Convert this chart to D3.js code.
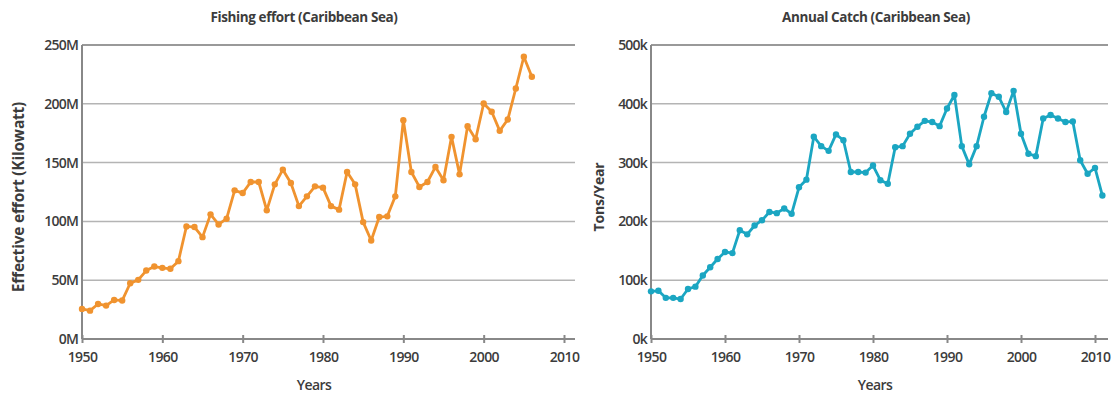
<!DOCTYPE html>
<html>
<head>
<meta charset="utf-8">
<script src="https://cdn.jsdelivr.net/npm/d3@7"></script>
<style>
  body { margin: 0; background: #fff; }
  svg text { font-family: "Open Sans", "Liberation Sans", sans-serif; fill: #3c3c3c; }
  .grid line { stroke: #b4b4b4; stroke-width: 1.5; }
  .axis path, .axis line { stroke: #888; stroke-width: 2; }
</style>
</head>
<body>
<svg id="chart" width="1117" height="412"></svg>
<script>
// Years shown on the x axis
var xTicks = [1950, 1960, 1970, 1980, 1990, 2000, 2010];

// Fishing effort, million kilowatt, one value per year from 1950
var effortStart = 1950;
var effortValues = [25.6, 24.1, 29.8, 28.4, 33.2, 32.7, 47.4, 50.3, 58.2, 61.6,
                    60.5, 59.7, 66.2, 95.7, 95.2, 86.6, 106, 97.4, 102.3, 126.4,
                    124.1, 133.5, 133.5, 109.4, 131.5, 144, 132.7, 113, 121.3, 129.8,
                    128.7, 113, 110, 142, 131.5, 99.4, 83.8, 103.7, 104.3, 121.3,
                    186, 142, 129.3, 133.5, 146.3, 135, 171.9, 140, 181, 169.9,
                    200.3, 193.2, 177, 186.6, 213, 240, 223];
var effortTicks = [0, 50, 100, 150, 200, 250];

// Annual catch, thousand tons, one value per year from 1950
var catchStart = 1950;
var catchValues = [81, 82, 70, 70, 68, 85, 89, 108, 122, 136,
                   148, 146, 185, 178, 193, 202, 216, 214, 222, 213,
                   258, 271, 344, 328, 320, 348, 338, 284, 284, 283,
                   295, 270, 264, 326, 328, 349, 361, 371, 369, 362,
                   392, 415, 328, 297, 328, 378, 418, 412, 386, 422,
                   349, 315, 311, 375, 381, 375, 369, 370, 304, 281,
                   291, 244];
var catchTicks = [0, 100, 200, 300, 400, 500];

var svg = d3.select("#chart");

// Draws one line panel into the svg
function drawPanel(opts) {
    var data = opts.values.map(function(v, i) { return {year: opts.start + i, value: v}; });

    var x = d3.scaleLinear().domain([1950, 2010]).range([opts.left, opts.xEnd]);
    var y = d3.scaleLinear().domain([0, d3.max(opts.yTicks)]).range([339, 45]);

    var g = svg.append("g");

    // Horizontal grid lines
    g.append("g")
        .classed("grid", true)
        .selectAll("line")
        .data(opts.yTicks.slice(1))
        .enter().append("line")
        .attr("x1", opts.left)
        .attr("x2", opts.right)
        .attr("y1", function(d) { return y(d); })
        .attr("y2", function(d) { return y(d); });

    // Top line is a bit darker
    g.append("line")
        .attr("x1", opts.left).attr("x2", opts.right)
        .attr("y1", y(d3.max(opts.yTicks))).attr("y2", y(d3.max(opts.yTicks)))
        .attr("stroke", "#999").attr("stroke-width", 2);

    // x axis: ticks crossing the line
    var xAxis = g.append("g")
        .classed("axis", true)
        .attr("transform", "translate(0," + y(0) + ")")
        .call(d3.axisBottom(x).tickValues(xTicks).tickSize(0).tickPadding(12).tickFormat(d3.format("d")));
    xAxis.select(".domain").attr("d", "M" + opts.left + ",0H" + opts.right);
    xAxis.selectAll(".tick").append("line").attr("y1", -4).attr("y2", 4);
    xAxis.selectAll("text")
        .style("font-size", "14px")
        .style("font-weight", "600")
        .style("letter-spacing", "-0.6px")
        .attr("dy", "0.82em");

    // y axis
    var yAxis = g.append("g")
        .classed("axis", true)
        .attr("transform", "translate(" + opts.left + ",0)")
        .call(d3.axisLeft(y).tickValues(opts.yTicks).tickSize(0).tickPadding(4)
              .tickFormat(function(d) { return d + opts.unit; }));
    yAxis.select(".domain").attr("d", "M0," + y(d3.max(opts.yTicks)) + "V" + y(0));
    yAxis.selectAll("text")
        .style("font-size", "14px")
        .style("font-weight", "600")
        .style("letter-spacing", "-0.8px");

    // Series line and markers
    var line = d3.line()
        .x(function(d) { return x(d.year); })
        .y(function(d) { return y(d.value); });

    g.append("path")
        .datum(data)
        .attr("fill", "none")
        .attr("stroke", opts.color)
        .attr("stroke-width", 2.8)
        .attr("stroke-linejoin", "round")
        .attr("d", line);

    g.selectAll(".dot")
        .data(data)
        .enter().append("circle")
        .classed("dot", true)
        .attr("cx", function(d) { return x(d.year); })
        .attr("cy", function(d) { return y(d.value); })
        .attr("r", 3.2)
        .attr("fill", opts.color);

    // Title
    svg.append("text")
        .attr("x", opts.titleX)
        .attr("y", 22)
        .style("text-anchor", "middle")
        .style("font-size", "13.5px")
        .style("font-weight", "700")
        .style("letter-spacing", "-0.4px")
        .text(opts.title);

    // x axis label
    svg.append("text")
        .attr("x", opts.yearsX)
        .attr("y", 390)
        .style("text-anchor", "middle")
        .style("font-size", "14px")
        .style("font-weight", "600")
        .style("letter-spacing", "-0.6px")
        .text("Years");

    // y axis label
    svg.append("text")
        .attr("transform", "rotate(-90)")
        .attr("x", -197)
        .attr("y", opts.yLabelX)
        .style("text-anchor", "middle")
        .style("font-size", opts.yLabelSize)
        .style("font-weight", "700")
        .style("letter-spacing", "-0.2px")
        .text(opts.yLabel);
}

drawPanel({
    values: effortValues, start: effortStart, yTicks: effortTicks, unit: "M",
    left: 82, xEnd: 564, right: 575, color: "#f0932f",
    title: "Fishing effort (Caribbean Sea)", titleX: 304, yearsX: 314,
    yLabel: "Effective effort (Kilowatt)", yLabelX: 24, yLabelSize: "15.5px"
});

drawPanel({
    values: catchValues, start: catchStart, yTicks: catchTicks, unit: "k",
    left: 651, xEnd: 1095, right: 1108, color: "#1ba6c2",
    title: "Annual Catch (Caribbean Sea)", titleX: 876, yearsX: 875,
    yLabel: "Tons/Year", yLabelX: 604, yLabelSize: "14px"
});
</script>
</body>
</html>
